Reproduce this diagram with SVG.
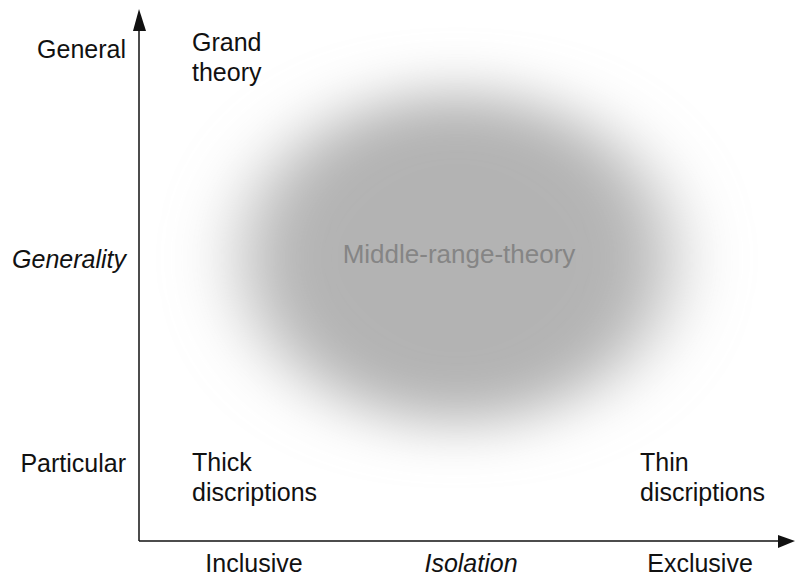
<svg xmlns="http://www.w3.org/2000/svg" width="795" height="579" viewBox="0 0 795 579">
<style>
text{font-family:"Liberation Sans",Arial,sans-serif;font-size:25px;fill:#111}
.it{font-style:italic}
.mid{fill:#858585;font-size:26px}
.ax{stroke:#111;stroke-width:1.5;fill:none}
.head{fill:#111}
</style>
<defs>
<filter id="soft" x="-50%" y="-50%" width="200%" height="200%">
<feGaussianBlur stdDeviation="38 28"/>
</filter>
</defs>
<g id="middle-range">
<ellipse cx="457" cy="258" rx="212" ry="165" fill="#b3b3b3" filter="url(#soft)"/>
<text class="mid" x="459" y="263" text-anchor="middle">Middle-range-theory</text>
</g>
<g id="connectors">
<line class="ax" x1="139" y1="541" x2="139" y2="28"/>
<path class="head" d="M139,9 L133,31 L146,31 z"/>
<line class="ax" x1="139" y1="541" x2="780" y2="541"/>
<path class="head" d="M795,541 L778,535 L778,548 z"/>
</g>
<g id="y-labels">
<text x="126" y="58" text-anchor="end">General</text>
<text class="it" x="126" y="268" text-anchor="end">Generality</text>
<text x="126" y="472" text-anchor="end">Particular</text>
</g>
<g id="x-labels">
<text x="254" y="572" text-anchor="middle">Inclusive</text>
<text class="it" x="471" y="572" text-anchor="middle">Isolation</text>
<text x="700" y="572" text-anchor="middle">Exclusive</text>
</g>
<g id="grand-theory">
<text x="192" y="51">Grand</text>
<text x="192" y="81">theory</text>
</g>
<g id="thick">
<text x="192" y="471">Thick</text>
<text x="192" y="501">discriptions</text>
</g>
<g id="thin">
<text x="640" y="471">Thin</text>
<text x="640" y="501">discriptions</text>
</g>
</svg>
